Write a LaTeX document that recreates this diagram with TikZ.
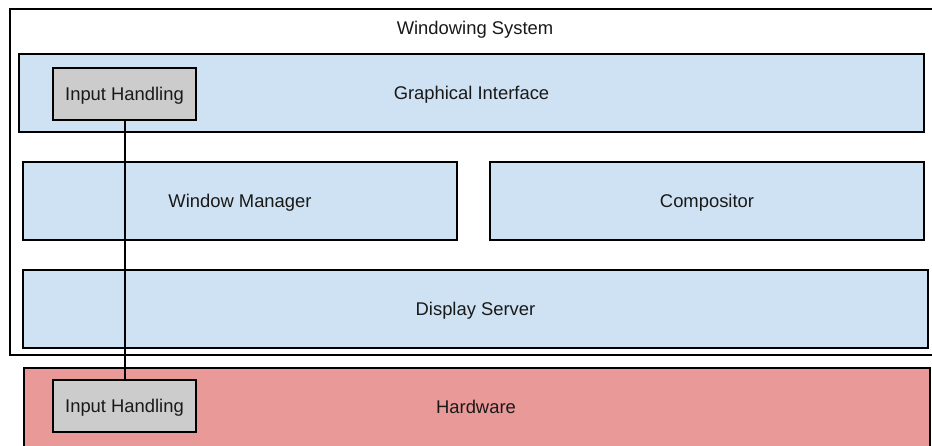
\documentclass[tikz,border=0pt]{standalone}
\usepackage{fontspec}
\setmainfont{Liberation Sans}
\definecolor{paleblue}{HTML}{CFE2F3}
\definecolor{palered}{HTML}{EA9999}
\definecolor{palegray}{HTML}{CCCCCC}
\begin{document}
\begin{tikzpicture}[x=1pt, y=-1pt,
  every node/.style={font=\fontsize{18.4}{21}\selectfont, text=black!90,
    text height=13.2pt, text depth=0pt},
  layer/.style={draw=black, line width=2pt, rectangle, inner sep=0pt},
  bluelayer/.style={layer, fill=paleblue},
  hwlayer/.style={layer, fill=palered},
  inbox/.style={layer, fill=palegray},
  wire/.style={draw=black, line width=2pt}
]
\useasboundingbox (0,0) rectangle (932,445);
\clip (0,0) rectangle (932,445);
\fill[white] (0,0) rectangle (932,445);

% enclosing windowing system frame
\node[layer, fill=white, minimum width=925pt, minimum height=346pt, anchor=north west] (ws) at (9,8) {};
\node (wslabel) at (475,28) {Windowing System};

% layers inside the windowing system
\node[bluelayer, minimum width=905pt, minimum height=78pt] (gi) at (471.5,93) {Graphical Interface};
\node[bluelayer, minimum width=434pt, minimum height=78pt] (wm) at (240,201) {Window Manager};
\node[bluelayer, minimum width=434pt, minimum height=78pt] (comp) at (707,201) {Compositor};
\node[bluelayer, minimum width=905pt, minimum height=78pt] (ds) at (475.5,309) {Display Server};

% hardware layer, running past the lower edge
\node[hwlayer, minimum width=906pt, minimum height=84pt, anchor=north west] (hw) at (23,367) {};
\node (hwlabel) at (476,407) {Hardware};

% input handling on both levels, joined by a wire
\node[inbox, minimum width=143pt, minimum height=52pt] (ihtop) at (124.5,94) {Input Handling};
\node[inbox, minimum width=143pt, minimum height=52pt] (ihbot) at (124.5,406) {Input Handling};
\draw[wire] (ihtop.south) -- (ihbot.north);
\end{tikzpicture}
\end{document}
